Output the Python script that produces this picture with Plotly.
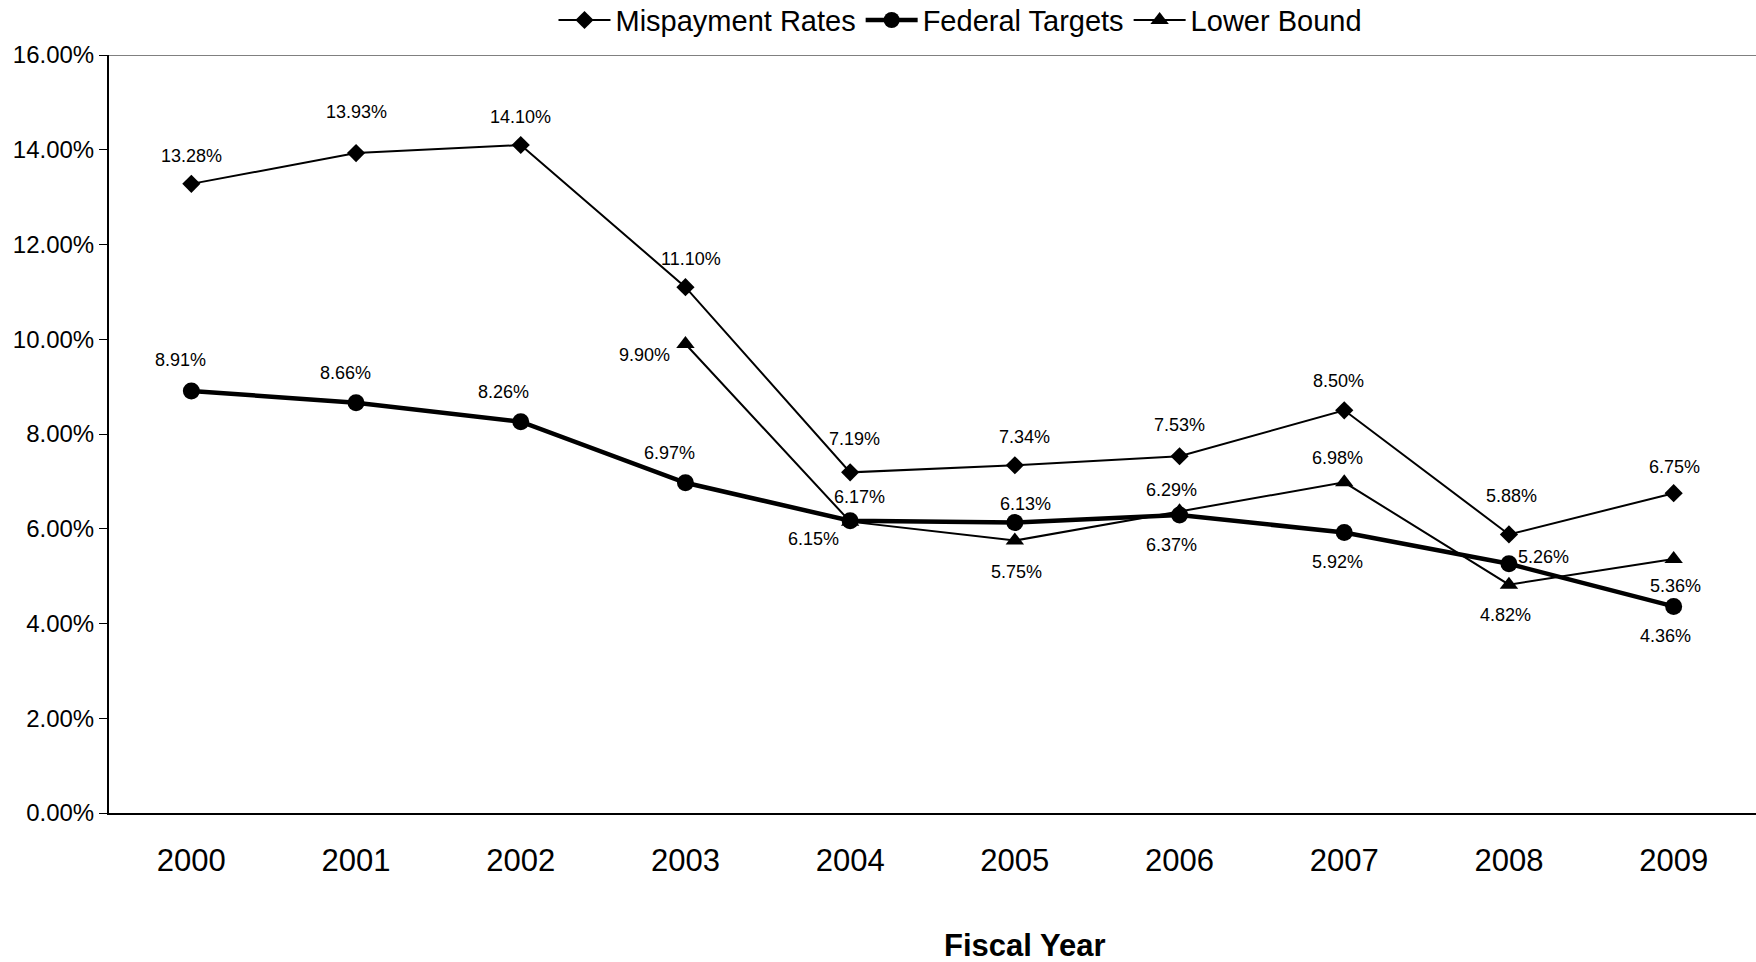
import plotly.graph_objects as go

years = ["2000", "2001", "2002", "2003", "2004", "2005", "2006", "2007", "2008", "2009"]
mispayment = [13.28, 13.93, 14.10, 11.10, 7.19, 7.34, 7.53, 8.50, 5.88, 6.75]
federal = [8.91, 8.66, 8.26, 6.97, 6.17, 6.13, 6.29, 5.92, 5.26, 4.36]
lower_years = ["2003", "2004", "2005", "2006", "2007", "2008", "2009"]
lower = [9.90, 6.15, 5.75, 6.37, 6.98, 4.82, 5.36]
y_ticks = [0, 2, 4, 6, 8, 10, 12, 14, 16]

FONT = "Liberation Sans, Arial, sans-serif"

# label offsets (xshift, yshift) in pixels
mis_off = [(0, 28), (0, 41), (0, 28), (6, 28), (4, 33), (10, 28), (0, 31), (-6, 29), (3, 38), (1, 26)]
fed_off = [(-11, 31), (-11, 30), (-17, 30), (-16, 30), (9, 24), (11, 19), (-8, 25), (-7, -29), (35, 7), (-8, -30)]
low_off = [(-41, -11), (-37, -17), (2, -31), (-8, -34), (-7, 24), (-3, -30), (2, -27)]

fig = go.Figure()
fig.add_trace(go.Scatter(x=years, y=mispayment, name="Mispayment Rates", mode="lines+markers",
                         line=dict(color="black", width=2),
                         marker=dict(symbol="diamond", size=14, color="black")))
fig.add_trace(go.Scatter(x=years, y=federal, name="Federal Targets", mode="lines+markers",
                         line=dict(color="black", width=4.5),
                         marker=dict(symbol="circle", size=17, color="black")))
fig.add_trace(go.Scatter(x=lower_years, y=lower, name="Lower Bound", mode="lines+markers",
                         line=dict(color="black", width=2),
                         marker=dict(symbol="triangle-up", size=16, color="black")))

anns = []
for xs, ys, offs in [(years, mispayment, mis_off), (years, federal, fed_off), (lower_years, lower, low_off)]:
    for x, y, (dx, dy) in zip(xs, ys, offs):
        anns.append(dict(x=years.index(x), y=y, xref="x", yref="y", text=f"{y:.2f}%", showarrow=False,
                         xshift=dx, yshift=dy, font=dict(size=18, color="black", family=FONT)))
anns.append(dict(x=0.556, y=-0.175, xref="paper", yref="paper", text="<b>Fiscal Year</b>",
                 showarrow=False, yanchor="middle", font=dict(size=31, color="black", family=FONT)))

fig.update_layout(
    width=1756, height=962,
    margin=dict(l=109, r=0, t=55, b=149, autoexpand=False),
    paper_bgcolor="white", plot_bgcolor="white",
    font=dict(family=FONT, color="black"),
    annotations=anns,
    showlegend=True,
    legend=dict(orientation="h", x=0.517, xanchor="center", y=1.046, yanchor="middle",
                font=dict(size=29, family=FONT, color="black"), itemwidth=52,
                bgcolor="rgba(0,0,0,0)", tracegroupgap=0),
    shapes=[dict(type="line", xref="paper", yref="y", x0=0, x1=1, y0=16, y1=16,
                 line=dict(color="#808080", width=2))],
)
fig.update_xaxes(type="category", range=[-0.5, 9.5], showline=True, linecolor="black", linewidth=2,
                 showgrid=False, ticks="", tickfont=dict(size=31, family=FONT, color="black"),
                 ticklabelstandoff=19, zeroline=False)
fig.update_yaxes(range=[0, 16], tickvals=y_ticks, ticktext=[f"{v:.2f}%" for v in y_ticks],
                 showline=True, linecolor="black", linewidth=2, showgrid=False, zeroline=False,
                 ticks="outside", ticklen=8, tickwidth=1, tickcolor="black",
                 tickfont=dict(size=24, family=FONT, color="black"))

fig.write_html("out.html", config={"displayModeBar": False},
               post_script="document.body.style.margin='0';")
